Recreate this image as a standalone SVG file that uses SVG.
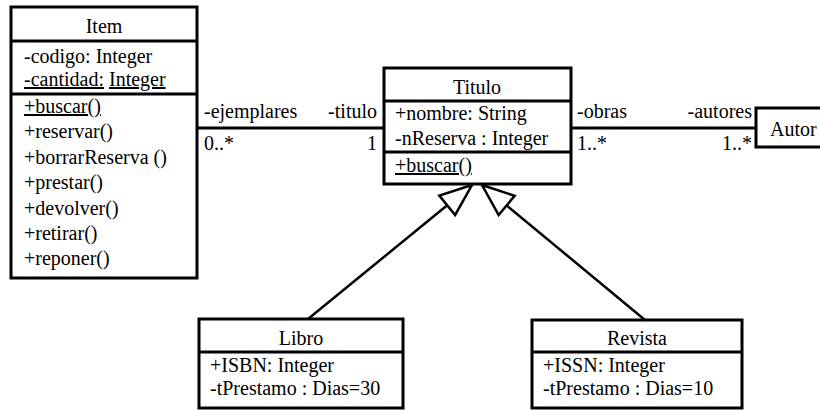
<svg xmlns="http://www.w3.org/2000/svg" width="820" height="410" viewBox="0 0 820 410" font-family="'Liberation Serif', 'DejaVu Serif', 'Times New Roman', serif">
<style>
text{font-family:'Liberation Serif','DejaVu Serif','Times New Roman',serif;font-size:20px;fill:#000}
.c{text-anchor:middle}
.e{text-anchor:end}
.u{text-decoration:underline}
.box{fill:#fff;stroke:#000;stroke-width:3}
.sep{stroke:#000;stroke-width:3}
.assoc{stroke:#000;stroke-width:3;fill:none}
.gen{stroke:#000;stroke-width:2.5;fill:none;marker-end:url(#tri)}
</style>
<defs>
<marker id="tri" markerUnits="userSpaceOnUse" viewBox="-36 -16 40 32" refX="0" refY="0" markerWidth="40" markerHeight="32" orient="auto" overflow="visible">
<path d="M0,0 L-32,-12.5 L-32,12.5 Z" fill="#fff" stroke="#000" stroke-width="2.5" stroke-linejoin="miter"/>
</marker>
</defs>
<g id="connectors">
<line class="assoc" x1="197" y1="128" x2="384" y2="128"/>
<line class="assoc" x1="571" y1="128" x2="756" y2="128"/>
<line class="gen" x1="308" y1="319" x2="472" y2="185"/>
<line class="gen" x1="645" y1="320" x2="482" y2="185"/>
<text x="204" y="118">-ejemplares</text>
<text class="e" x="377" y="118">-titulo</text>
<text x="204" y="150">0..*</text>
<text class="e" x="377" y="150">1</text>
<text x="577" y="118">-obras</text>
<text class="e" x="752" y="118">-autores</text>
<text x="577" y="150">1..*</text>
<text class="e" x="752" y="150">1..*</text>
</g>
<g id="Item">
<rect class="box" x="11" y="7" width="186" height="271"/>
<line class="sep" x1="11" y1="41" x2="197" y2="41"/>
<line class="sep" x1="11" y1="94" x2="197" y2="94"/>
<text class="c" x="104" y="33">Item</text>
<text x="24" y="63">-codigo: Integer</text>
<text x="24" y="86"><tspan class="u">-cantidad:</tspan> <tspan class="u">Integer</tspan></text>
<text class="u" x="24" y="113">+buscar()</text>
<text x="24" y="138">+reservar()</text>
<text x="24" y="164">+borrarReserva ()</text>
<text x="24" y="189">+prestar()</text>
<text x="24" y="215">+devolver()</text>
<text x="24" y="240">+retirar()</text>
<text x="24" y="265">+reponer()</text>
</g>
<g id="Titulo">
<rect class="box" x="384" y="68" width="187" height="116"/>
<line class="sep" x1="384" y1="101" x2="571" y2="101"/>
<line class="sep" x1="384" y1="152" x2="571" y2="152"/>
<text class="c" x="477" y="94">Titulo</text>
<text x="395" y="120">+nombre: String</text>
<text x="395" y="145">-nReserva : Integer</text>
<text class="u" x="395" y="172">+buscar()</text>
</g>
<g id="Autor">
<rect class="box" x="756" y="108" width="70" height="39"/>
<text x="770" y="136">Autor</text>
</g>
<g id="Libro">
<rect class="box" x="199" y="319" width="204" height="89"/>
<line class="sep" x1="199" y1="352" x2="403" y2="352"/>
<text class="c" x="301" y="345">Libro</text>
<text x="210" y="372">+ISBN: Integer</text>
<text x="210" y="395">-tPrestamo : Dias=30</text>
</g>
<g id="Revista">
<rect class="box" x="532" y="320" width="210" height="88"/>
<line class="sep" x1="532" y1="352" x2="742" y2="352"/>
<text class="c" x="637" y="345">Revista</text>
<text x="543" y="372">+ISSN: Integer</text>
<text x="543" y="395">-tPrestamo : Dias=10</text>
</g>
</svg>
